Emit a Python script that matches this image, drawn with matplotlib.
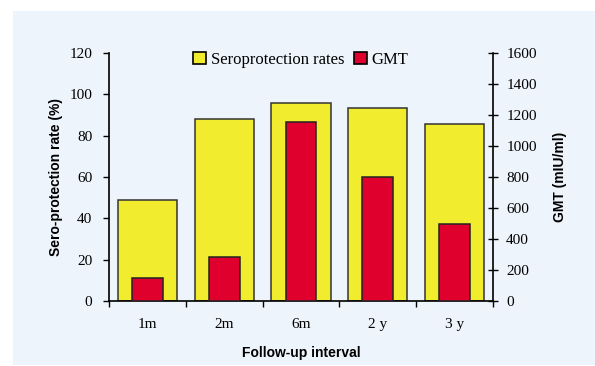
import matplotlib
matplotlib.use("Agg")
import matplotlib.pyplot as plt
from matplotlib.patches import Rectangle, Patch
import numpy as np

categories = ["1m", "2m", "6m", "2 y", "3 y"]
seroprotection = [49, 88, 96, 93.5, 85.8]
gmt = [150, 285, 1155, 800, 495]
left_ticks = [0, 20, 40, 60, 80, 100, 120]
right_ticks = [0, 200, 400, 600, 800, 1000, 1200, 1400, 1600]

yellow = "#F2EC2E"
red = "#E0002E"
bg = "#EEF4FB"
serif = "Liberation Serif"
sans = "Liberation Sans"

fig = plt.figure(figsize=(5.95, 3.66), dpi=100)
fig.patches.append(Rectangle((13/595, 1/366), 1 - 13/595, 1 - 12/366,
                             transform=fig.transFigure, facecolor=bg,
                             edgecolor="none", zorder=-10))

ax = fig.add_axes([109/595, 65/366, 384/595, 248/366])
ax.set_facecolor("none")
x = np.arange(len(categories))
ax.bar(x, seroprotection, width=0.77, color=yellow, edgecolor="#333333",
       linewidth=1.1, zorder=2)
ax.set_ylim(0, 120)
ax.set_xlim(-0.5, len(categories) - 0.5)
ax.set_yticks(left_ticks)
ax.set_yticklabels([str(v) for v in left_ticks], fontfamily=serif, fontsize=11)
ax.set_xticks(x)
ax.set_xticklabels(categories, fontfamily=serif, fontsize=11)
ax.set_xticks(np.arange(-0.5, len(categories), 1), minor=True)
ax.tick_params(axis="x", which="major", length=0, pad=12)
ax.tick_params(axis="x", which="minor", length=4, width=1, direction="out")
ax.tick_params(axis="y", length=4, width=1, direction="out", pad=8)
for s in ["top", "right"]:
    ax.spines[s].set_visible(False)
ax.spines["left"].set_linewidth(1.2)
ax.spines["bottom"].set_linewidth(1.2)
ax.set_ylabel("Sero-protection rate (%)", fontfamily=sans, fontweight="bold",
              fontsize=10, labelpad=5)
ax.set_xlabel("Follow-up interval", fontfamily=sans, fontweight="bold",
              fontsize=10, labelpad=11)

ax2 = ax.twinx()
ax2.bar(x, gmt, width=0.4, color=red, edgecolor="#222222", linewidth=1.1,
        zorder=3)
ax2.set_ylim(0, 1600)
ax2.set_yticks(right_ticks)
ax2.set_yticklabels([str(v) for v in right_ticks], fontfamily=serif, fontsize=11)
ax2.tick_params(axis="y", length=7, width=1, direction="inout", pad=6)
for s in ["top", "left", "bottom"]:
    ax2.spines[s].set_visible(False)
ax2.spines["right"].set_linewidth(1.2)
ax2.set_ylabel("GMT (mIU/ml)", fontfamily=sans, fontweight="bold",
               fontsize=10, labelpad=12)

handles = [Patch(facecolor=yellow, edgecolor="black", linewidth=1.2),
           Patch(facecolor=red, edgecolor="black", linewidth=1.2)]
leg = ax2.legend(handles, ["Seroprotection rates", "GMT"], loc="upper center",
                 bbox_to_anchor=(0.5, 1.065), ncol=2, frameon=False,
                 prop={"family": serif, "size": 12}, handlelength=0.75,
                 handleheight=0.75, handletextpad=0.3, columnspacing=0.6)

fig.savefig("out.png", dpi=100)
